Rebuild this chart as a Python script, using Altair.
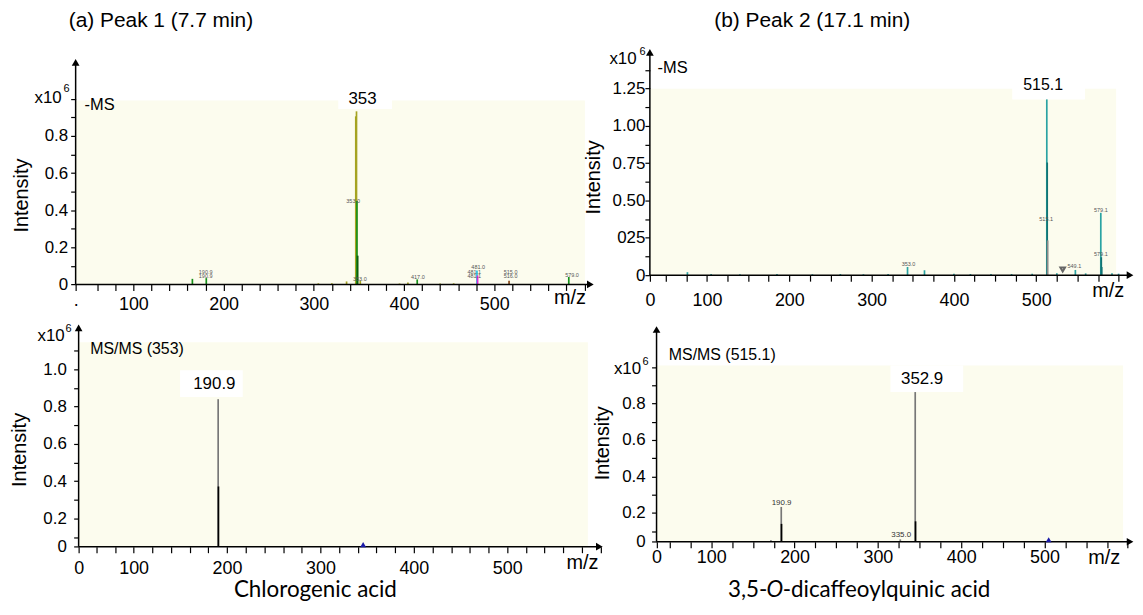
import altair as alt
import pandas as pd

FONT = "Liberation Sans"
NAMEFONT = "Lato"

OLIVE = "#a5a322"
GREEN = "#16901a"
DKGREEN = "#0b5e0b"
CYAN = "#25c2e0"
MAGENTA = "#e024d6"
BROWN = "#8a4a1a"
TEAL = "#2aa3a3"
DKTEAL = "#127474"
GRAY = "#8a8a8a"
MGRAY = "#777777"
BLACK = "#000000"
CREAM = "#fcfcee"

# ---------------- (a) Peak 1, -MS ----------------
a_ms_mz = [165.4, 180.8, 305, 320, 336.3, 346.5, 347.3, 347.8, 348.6, 351.5, 395, 404.3, 414.6, 440, 455, 480.8, 481.5, 516.4, 582.6]
a_ms_int = [0.03, 0.034, 0.006, 0.006, 0.016, 0.906, 0.933, 0.45, 0.155, 0.02, 0.005, 0.01, 0.027, 0.005, 0.006, 0.075, 0.048, 0.02, 0.04]
a_ms_col = [GREEN, GREEN, OLIVE, OLIVE, OLIVE, OLIVE, OLIVE, GREEN, DKGREEN, OLIVE, OLIVE, OLIVE, GREEN, OLIVE, OLIVE, CYAN, MAGENTA, BROWN, GREEN]
a_ms_lab_text = ["190.9", "190.9", "353.0", "353.0", "417.0", "481.0", "481.1", "481.1", "515.0", "516.0", "579.0"]
a_ms_lab_mz = [180.1, 180.1, 343.6, 351.0, 415.3, 482.2, 477.8, 477.8, 518.1, 518.1, 586.2]
a_ms_lab_int = [0.0676, 0.046, 0.452, 0.028, 0.041, 0.094, 0.068, 0.046, 0.068, 0.046, 0.05]
a_ms_big = ("353", 354.0, 0.999)

# ---------------- (b) Peak 2, -MS ----------------
b_ms_mz = [76.2, 105, 140, 185, 228, 262, 290, 320, 343.6, 364.2, 400, 420, 445, 470, 495, 512.8, 513.3, 513.8, 525, 547.5, 560, 578.4, 579.0, 579.5, 592, 600]
b_ms_int = [0.02, 0.008, 0.006, 0.007, 0.006, 0.008, 0.006, 0.007, 0.055, 0.033, 0.009, 0.008, 0.007, 0.008, 0.01, 1.178, 0.755, 0.233, 0.012, 0.035, 0.012, 0.418, 0.12, 0.055, 0.012, 0.01]
b_ms_col = [TEAL] * 15 + [TEAL, DKTEAL, GRAY] + [TEAL, TEAL, TEAL, TEAL, DKTEAL, DKTEAL, TEAL, TEAL]
b_ms_lab_text = ["353.0", "515.1", "549.1", "579.1", "579.1"]
b_ms_lab_mz = [344.8, 512.0, 546.3, 578.5, 578.5]
b_ms_lab_int = [0.073, 0.373, 0.06, 0.438, 0.14]
b_ms_big = ("515.1", 508.4, 1.273)
b_ms_marker = (532.1, 0.038)

# ---------------- (a) MS/MS (353) ----------------
a_msms_mz = [190.5, 190.8]
a_msms_int = [0.84, 0.372]
a_msms_col = [MGRAY, BLACK]
a_msms_big = ("190.9", 186.4, 0.924)
a_msms_prec = 345.7

# ---------------- (b) MS/MS (515.1) ----------------
b_msms_mz = [171.6, 184.0, 184.3, 326.9, 344.8, 345.2]
b_msms_int = [0.052, 0.233, 0.14, 0.055, 0.863, 0.154]
b_msms_col = [GRAY, MGRAY, BLACK, MGRAY, MGRAY, BLACK]
b_msms_lab_text = ["190.9", "335.0"]
b_msms_lab_mz = [184.4, 328.0]
b_msms_lab_int = [0.254, 0.0815]
b_msms_big = ("352.9", 353.1, 0.937)
b_msms_prec = 505.0

# tick positions
tl_xticks = [36] + list(range(60, 601, 20))
tr_xticks = [30.6] + list(range(50, 601, 25))
bl_xticks = [41.1] + list(range(60, 601, 20))
br_xticks = [34.3] + list(range(50, 601, 25))
tl_yticks = [0, 0.1, 0.2, 0.3, 0.4, 0.5, 0.6, 0.7, 0.8, 0.9, 1.0]
tr_yticks = [0, 0.125, 0.25, 0.375, 0.5, 0.625, 0.75, 0.875, 1.0, 1.125, 1.25, 1.375]
bl_yticks = [0.049, 0.1, 0.2, 0.3, 0.4, 0.5, 0.6, 0.7, 0.8, 0.9, 1.0, 1.1]
br_yticks = [0.042, 0.1, 0.2, 0.3, 0.4, 0.5, 0.6, 0.7, 0.8, 0.9, 1.0]

ONE = pd.DataFrame({"k": [0]})


def deco(px, py, s, size=16, align="left", font=FONT, angle=0, italic=False, color="black"):
    kw = dict(text=s, fontSize=size, align=align, baseline="middle", font=font, color=color)
    if angle:
        kw["angle"] = angle
    if italic:
        kw["fontStyle"] = "italic"
    return alt.Chart(ONE).mark_text(**kw).encode(x=alt.value(px), y=alt.value(py))


def panel(p):
    xs = alt.Scale(domain=p["xdom"], nice=False, zero=False)
    ys = alt.Scale(domain=p["ydom"], nice=False, zero=False)
    xax = alt.Axis(values=p["xticks"], labelExpr=p["xlab"], domain=False, grid=False,
                   tickSize=6, tickColor="black", tickWidth=1.2,
                   labelFont=FONT, labelFontSize=18, labelColor="black",
                   labelPadding=p["xpad"], labelFlush=False, labelOverlap=False)
    yax = alt.Axis(values=p["yticks"], labelExpr=p["ylab"], domain=False, grid=False,
                   tickSize=5, tickColor="black", tickWidth=1.2,
                   labelFont=FONT, labelFontSize=17, labelColor="black",
                   labelPadding=p["ypad"], labelOverlap=False, offset=p["yoff"])

    def X(f):
        return alt.X(f, type="quantitative", scale=xs, axis=xax, title=None)

    def Y(f):
        return alt.Y(f, type="quantitative", scale=ys, axis=yax, title=None)

    base = p["base"]
    bg = alt.Chart(pd.DataFrame({"x0": [p["bgx"][0]], "x1": [p["bgx"][1]],
                                 "y0": [base], "y1": [p["bgtop"]]})).mark_rect(color=CREAM).encode(
        x=X("x0"), x2="x1", y=Y("y0"), y2="y1")
    box = alt.Chart(pd.DataFrame({"x0": [p["boxx"][0]], "x1": [p["boxx"][1]],
                                  "y0": [p["boxy"][0]], "y1": [p["boxy"][1]]})).mark_rect(color="white").encode(
        x=X("x0"), x2="x1", y=Y("y0"), y2="y1")
    pk = pd.DataFrame({"mz": p["mz"], "i": p["int"], "c": p["col"]})
    pk["b"] = base
    peaks = alt.Chart(pk).mark_rule(strokeWidth=1.7).encode(
        x=X("mz"), y=Y("b"), y2="i", color=alt.Color("c:N", scale=None))
    ox = p["xticks"][0]
    vline = alt.Chart(pd.DataFrame({"x": [ox], "y0": [base], "y1": [p["ytip"]]})).mark_rule(
        color="black", strokeWidth=1.5).encode(x=X("x"), y=Y("y0"), y2="y1")
    hline = alt.Chart(pd.DataFrame({"x0": [ox], "x1": [p["xtip"]], "y": [base]})).mark_rule(
        color="black", strokeWidth=1.5).encode(x=X("x0"), x2="x1", y=Y("y"))
    up = alt.Chart(pd.DataFrame({"x": [ox], "y": [p["ytip"]]})).mark_point(
        shape="triangle-up", filled=True, size=60, color="black", opacity=1).encode(x=X("x"), y=Y("y"))
    right = alt.Chart(pd.DataFrame({"x": [p["xtip"]], "y": [base]})).mark_point(
        shape="triangle-right", filled=True, size=60, color="black", opacity=1).encode(x=X("x"), y=Y("y"))
    big = alt.Chart(pd.DataFrame({"x": [p["big"][1]], "y": [p["big"][2]], "t": [p["big"][0]]})).mark_text(
        font=FONT, fontSize=p["bigsize"], color="black", baseline="middle", align="center").encode(
        x=X("x"), y=Y("y"), text="t:N")
    layers = [bg, box, peaks, vline, hline, up, right, big]
    if p.get("lab_text"):
        lab = alt.Chart(pd.DataFrame({"x": p["lab_mz"], "y": p["lab_int"], "t": p["lab_text"]})).mark_text(
            font=FONT, fontSize=p["labsize"], color=p["labcolor"], baseline="middle", align="center").encode(
            x=X("x"), y=Y("y"), text="t:N")
        layers.append(lab)
    if p.get("prec") is not None:
        pr = alt.Chart(pd.DataFrame({"x": [p["prec"]], "y": [p["precy"]]})).mark_point(
            shape="triangle-up", filled=True, size=35, color="#1a1aa8", opacity=1).encode(x=X("x"), y=Y("y"))
        layers.append(pr)
    if p.get("marker") is not None:
        mk = alt.Chart(pd.DataFrame({"x": [p["marker"][0]], "y": [p["marker"][1]]})).mark_point(
            shape="triangle-down", filled=False, size=22, color="#666666", opacity=1).encode(x=X("x"), y=Y("y"))
        layers.append(mk)
    for extra in p["extra"]:
        layers.append(extra)
    return alt.layer(*layers).properties(width=p["w"], height=p["h"])


XLAB_TL = "datum.value < 50 ? '·' : ((datum.value % 100 == 0 && datum.value <= 500) ? format(datum.value, 'd') : '')"
XLAB_0 = "datum.value < 45 ? '0' : ((datum.value % 100 == 0 && datum.value <= 500) ? format(datum.value, 'd') : '')"

NAME_Y = 271  # relative to the bottom panels' plot top

tl = panel(dict(
    xdom=[36, 624.75], ydom=[0, 1.2831], xticks=tl_xticks, yticks=tl_yticks,
    xlab=XLAB_TL,
    ylab="datum.value == 0 ? '0' : ((round(datum.value*10) % 2 == 0 && datum.value < 0.95) ? format(datum.value, '.1f') : '')",
    xpad=5, ypad=3, yoff=0, base=0, bgx=[36, 600.5], bgtop=0.992,
    boxx=[327.1, 386.6], boxy=[0.945, 1.053], mz=a_ms_mz, int=a_ms_int, col=a_ms_col,
    ytip=1.197, xtip=606.5, big=a_ms_big, bigsize=17,
    lab_text=a_ms_lab_text, lab_mz=a_ms_lab_mz, lab_int=a_ms_lab_int, labsize=5.5, labcolor="#555555",
    prec=None, w=534, h=239.3,
    extra=[
        alt.Chart(ONE).mark_rect(color="white").encode(x=alt.value(-68), x2=alt.value(-67), y=alt.value(-37), y2=alt.value(-36)),
        deco(-7, -25, "(a) Peak 1 (7.7 min)", size=21),
        deco(-14, 52, "x10", size=17, align="right"),
        deco(-6, 43, "6", size=11, align="right"),
        deco(9, 59.3, "-MS", size=16.5),
        deco(-53.8, 150, "Intensity", size=20, align="center", angle=270),
        deco(497, 253, "m/z", size=20, align="center"),
    ]))

tr = panel(dict(
    xdom=[30.6, 619.1], ydom=[0, 1.5333], xticks=tr_xticks, yticks=tr_yticks,
    xlab=XLAB_0,
    ylab="round(datum.value*8) == 0 ? '0' : (round(datum.value*8) == 2 ? '025' : (round(datum.value*8) % 2 == 0 ? format(datum.value, '.2f') : ''))",
    xpad=11, ypad=0, yoff=0, base=0, bgx=[30.6, 597], bgtop=1.25,
    boxx=[470.8, 559.2], boxy=[1.178, 1.367], mz=b_ms_mz, int=b_ms_int, col=b_ms_col,
    ytip=1.493, xtip=613.9, big=b_ms_big, bigsize=16,
    lab_text=b_ms_lab_text, lab_mz=b_ms_lab_mz, lab_int=b_ms_lab_int, labsize=5.5, labcolor="#555555",
    prec=None, marker=b_ms_marker, w=487, h=230,
    extra=[
        deco(64.7, -25, "(b) Peak 2 (17.1 min)", size=21),
        deco(-13.3, 13, "x10", size=17, align="right"),
        deco(-4.3, 6, "6", size=11, align="right"),
        deco(7.7, 21.7, "-MS", size=16.5),
        deco(-55.9, 131.7, "Intensity", size=20, align="center", angle=270),
        deco(460.7, 246, "m/z", size=20, align="center"),
    ]))

bl = panel(dict(
    xdom=[37.9, 606.6], ydom=[0.049, 1.2613], xticks=bl_xticks, yticks=bl_yticks,
    xlab=XLAB_0,
    ylab="datum.value < 0.08 ? '0' : (round(datum.value*10) % 2 == 0 ? format(datum.value, '.1f') : '')",
    xpad=7, ypad=7.4, yoff=-3, base=0.049, bgx=[41.1, 586.3], bgtop=1.146,
    boxx=[149.7, 216.8], boxy=[0.852, 0.995], mz=a_msms_mz, int=a_msms_int, col=a_msms_col,
    ytip=1.222, xtip=598.6, big=a_msms_big, bigsize=17,
    prec=a_msms_prec, precy=0.06, w=534, h=227.3,
    extra=[
        deco(-11, 15, "x10", size=17, align="right"),
        deco(-4, 8, "6", size=11, align="right"),
        deco(14.6, 28.3, "MS/MS (353)", size=16),
        deco(-55.7, 130, "Intensity", size=20, align="center", angle=270),
        deco(509.5, 243.3, "m/z", size=20, align="center"),
        deco(241, NAME_Y, "Chlorogenic acid", size=22.5, align="center", font=NAMEFONT),
    ]))

br = panel(dict(
    xdom=[26.3, 607.8], ydom=[0.042, 1.2548], xticks=br_xticks, yticks=br_yticks,
    xlab=XLAB_0,
    ylab="datum.value < 0.08 ? '0' : ((round(datum.value*10) % 2 == 0 && datum.value < 0.95) ? format(datum.value, '.1f') : '')",
    xpad=0.6, ypad=6.4, yoff=-6.7, base=0.042, bgx=[34.3, 594.3], bgtop=1.009,
    boxx=[315.1, 402.4], boxy=[0.863, 1.009], mz=b_msms_mz, int=b_msms_int, col=b_msms_col,
    ytip=1.206, xtip=602.7, big=b_msms_big, bigsize=17,
    lab_text=b_msms_lab_text, lab_mz=b_msms_lab_mz, lab_int=b_msms_lab_int, labsize=8, labcolor="#333333",
    prec=b_msms_prec, precy=0.053, w=487, h=222.3,
    extra=[
        deco(-8.8, 48.3, "x10", size=17, align="right"),
        deco(-1.3, 41.7, "6", size=11, align="right"),
        deco(19, 35, "MS/MS (515.1)", size=16),
        deco(-46.8, 123.3, "Intensity", size=20, align="center", angle=270),
        deco(456.7, 238.3, "m/z", size=20, align="center"),
        deco(118, NAME_Y, "3,5-", size=22.5, align="right", font=NAMEFONT),
        deco(125.7, NAME_Y, "O", size=22.5, align="center", font=NAMEFONT, italic=True),
        deco(133.5, NAME_Y, "-dicaffeoylquinic acid", size=22.5, align="left", font=NAMEFONT),
    ]))

chart = alt.concat(tl, tr, bl, br, columns=2, spacing={"row": 35.7, "column": 43.3},
                   bounds="flush").properties(padding=0).configure_view(strokeWidth=0)

chart.save("out.html", embed_options={"renderer": "svg", "actions": False})
